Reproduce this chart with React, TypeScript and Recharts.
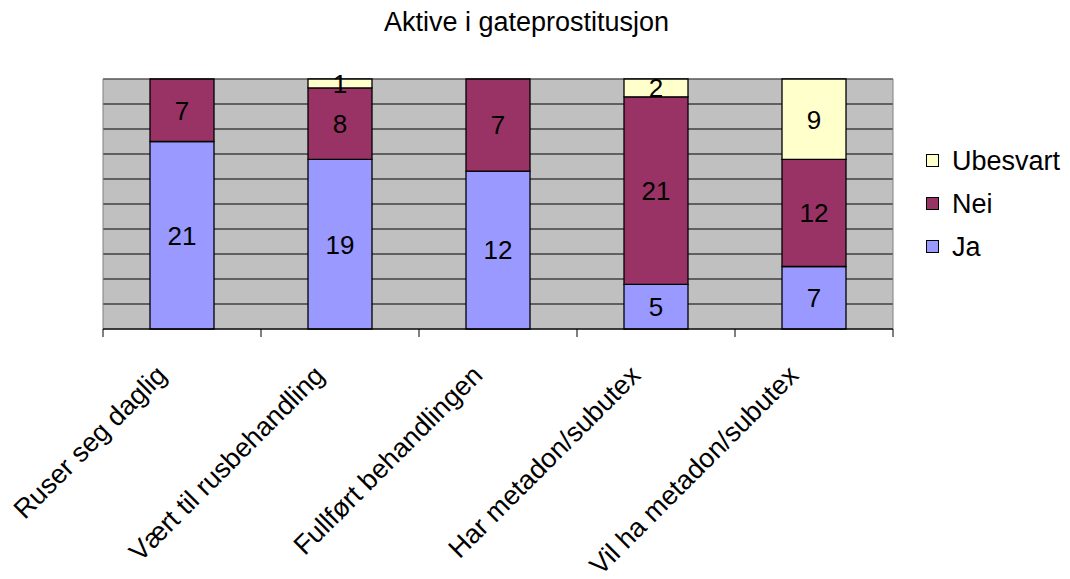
import { BarChart, Bar, XAxis, YAxis, CartesianGrid, ReferenceArea, LabelList } from 'recharts';

const categories = [
  'Ruser seg daglig',
  'Vært til rusbehandling',
  'Fullført behandlingen',
  'Har metadon/subutex',
  'Vil ha metadon/subutex',
];
const ja = [21, 19, 12, 5, 7];
const nei = [7, 8, 7, 21, 12];
const ubesvart = [0, 1, 0, 2, 9];
const gridTicks = [0, 0.1, 0.2, 0.3, 0.4, 0.5, 0.6, 0.7, 0.8, 0.9, 1];

const FONT = '"Liberation Sans", Arial, sans-serif';

const series = [
  { key: 'ja', name: 'Ja', color: '#9999FF' },
  { key: 'nei', name: 'Nei', color: '#993366' },
  { key: 'ubesvart', name: 'Ubesvart', color: '#FFFFCC' },
];

const data = categories.map((name, i) => ({
  name,
  ja: ja[i],
  nei: nei[i],
  ubesvart: ubesvart[i],
}));

// with dataKey on the LabelList, value is the raw count, not the expanded share
const segLabel = (p: any) => {
  const v = p.value;
  if (!v || Array.isArray(v)) return null;
  const b = p.viewBox ?? p;
  return (
    <text
      x={b.x + b.width / 2}
      y={b.y + b.height / 2}
      dy="0.36em"
      textAnchor="middle"
      fontSize={26}
      fontFamily={FONT}
      fill="#000"
    >
      {v}
    </text>
  );
};

// category label + tick marks on the band edges (Excel style)
function XTick(props: any) {
  const { x, y, payload, index } = props;
  const half = payload?.offset || 79;
  const last = index === categories.length - 1;
  const ax = x - 14;
  const ay = y + 48;
  return (
    <g>
      <line x1={x - half} x2={x - half} y1={y} y2={y + 8} stroke="#000" />
      {last && <line x1={x + half} x2={x + half} y1={y} y2={y + 8} stroke="#000" />}
      <text
        x={ax}
        y={ay}
        textAnchor="end"
        transform={`rotate(-45, ${ax}, ${ay})`}
        fontSize={27}
        fontFamily={FONT}
        fill="#000"
      >
        {payload.value}
      </text>
    </g>
  );
}

const NoTick = () => <g />;

export default function App() {
  return (
    <div style={{ position: 'relative', width: 1054, height: 571, marginBottom: -8, fontFamily: FONT }}>
      <div
        style={{
          position: 'absolute', left: 0, top: 0, width: 1037, textAlign: 'center',
          fontSize: 27, lineHeight: '28px', color: '#000',
        }}
      >
        Aktive i gateprostitusjon
      </div>
      <BarChart
        width={1054}
        height={571}
        data={data}
        stackOffset="expand"
        margin={{ top: 71, right: 169, bottom: 20, left: 95 }}
        barSize={64}
      >
        <CartesianGrid fill="#C0C0C0" fillOpacity={1} stroke="#000" vertical={false} />
        <YAxis
          domain={[0, 1]}
          ticks={gridTicks}
          width={0}
          tick={<NoTick />}
          axisLine={false}
          tickLine={false}
        />
        <XAxis
          dataKey="name"
          interval={0}
          height={230}
          tickSize={0}
          tickMargin={0}
          tickLine={false}
          axisLine={{ stroke: '#000' }}
          tick={<XTick />}
        />
        <ReferenceArea y1={0} y2={1} fill="none" stroke="#808080" ifOverflow="extendDomain" />
        {series.map(s => (
          <Bar
            key={s.key}
            dataKey={s.key}
            name={s.name}
            stackId="a"
            fill={s.color}
            stroke="#000"
            strokeWidth={1.3}
            isAnimationActive={false}
          >
            <LabelList dataKey={s.key} content={segLabel} />
          </Bar>
        ))}
      </BarChart>
      <div style={{ position: 'absolute', left: 918, top: 131 }}>
        {[...series].reverse().map(s => (
          <div key={s.key} style={{ display: 'flex', alignItems: 'center', height: 43 }}>
            <span
              style={{
                display: 'inline-block', width: 11, height: 11, background: s.color,
                border: '1px solid #000', marginRight: 13,
              }}
            />
            <span style={{ fontSize: 27, lineHeight: '28px', color: '#000' }}>{s.name}</span>
          </div>
        ))}
      </div>
    </div>
  );
}
